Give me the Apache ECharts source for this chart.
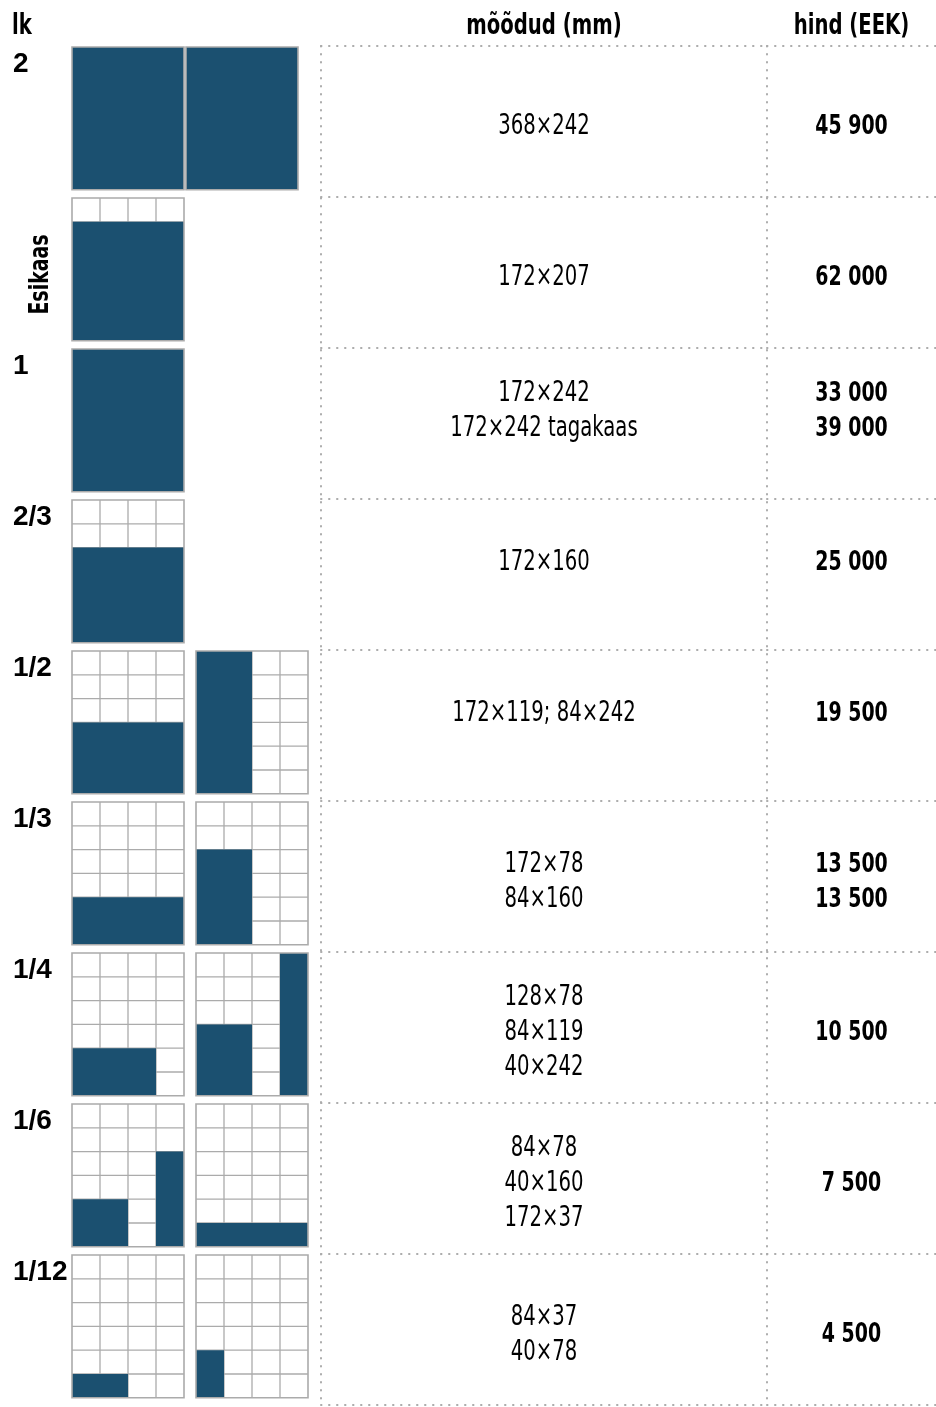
<!DOCTYPE html>
<html><head><meta charset="utf-8">
<script src="https://cdn.jsdelivr.net/npm/echarts@6/dist/echarts.min.js"></script>
<style>html,body{margin:0;padding:0;background:#fff}#c{width:936px;height:1407px}</style>
</head><body><div id="c"></div>
<script>
// ---------- data ----------
const headerLeft = 'lk';
const headerDims = 'mõõdud (mm)';
const headerPrice = 'hind (EEK)';
const rowLabels = ['2', 'Esikaas', '1', '2/3', '1/2', '1/3', '1/4', '1/6', '1/12'];
const dims = [
  ['368×242'],
  ['172×207'],
  ['172×242', '172×242 tagakaas', ' '],
  ['172×160', ' '],
  ['172×119; 84×242', ' '],
  ['172×78', '84×160'],
  ['128×78', '84×119', '40×242'],
  ['84×78', '40×160', '172×37'],
  ['84×37', '40×78']
];
const prices = [
  ['45 900'],
  ['62 000'],
  ['33 000', '39 000', ' '],
  ['25 000', ' '],
  ['19 500', ' '],
  ['13 500', '13 500'],
  ['10 500'],
  ['7 500'],
  ['4 500']
];
// filled blocks on a 4 x 6 page grid: [col, row, colSpan, rowSpan], one list per page
const PAGE_COLS = 4, PAGE_ROWS = 6;
const layouts = [
  [[[0, 0, 4, 6]], [[0, 0, 4, 6]]],
  [[[0, 1, 4, 5]]],
  [[[0, 0, 4, 6]]],
  [[[0, 2, 4, 4]]],
  [[[0, 3, 4, 3]], [[0, 0, 2, 6]]],
  [[[0, 4, 4, 2]], [[0, 2, 2, 4]]],
  [[[0, 4, 3, 2]], [[0, 3, 2, 3], [3, 0, 1, 6]]],
  [[[3, 2, 1, 4], [0, 4, 2, 2]], [[0, 5, 4, 1]]],
  [[[0, 5, 2, 1]], [[0, 4, 1, 2]]]
];
const spreadRows = [0]; // facing-page spread

// ---------- styles ----------
const NARROW = "'Liberation Sans Narrow', 'DejaVu Sans Condensed', 'DejaVu Sans', sans-serif";
const BOLDF = "'Liberation Sans', 'DejaVu Sans', sans-serif";
const SQUEEZE = 0.78;
const FILL = '#1b5070';
const GRIDC = '#ababab';
const DOT = { color: '#ababab', width: 2, type: [0.5, 7.5], cap: 'round' };

const pageData = [];
layouts.forEach((pages, r) => pages.forEach((_, p) => pageData.push([p, r])));

function txt(x, y, text, opt) {
  return {
    type: 'text', x: x, y: y, scaleX: opt.scaleX || 1, rotation: opt.rotation || 0,
    style: { text: text, align: opt.align || 'center', verticalAlign: 'middle', lineHeight: opt.lineHeight || 35,
      fontSize: opt.fontSize || 28, fontWeight: opt.bold ? 'bold' : 'normal',
      fontFamily: opt.family || NARROW, fill: '#000' }
  };
}

function renderPage(params, api) {
  const p = api.value(0), r = api.value(1);
  const colW = api.size([1, 0])[0];
  const band = api.size([0, 1])[1];
  const cellH = 23.8;
  const gapPx = spreadRows.includes(r) ? 2 : 12;
  const xCol = p * (PAGE_COLS + gapPx / colW);
  const pt = api.coord([xCol, r]);
  const x0 = pt[0], top = pt[1] - band / 2 + 1;
  const w = PAGE_COLS * colW, h = PAGE_ROWS * cellH;
  const ch = [];
  ch.push({ type: 'rect', shape: { x: x0, y: top, width: w, height: h }, style: { fill: '#fff' } });
  for (let c = 1; c < PAGE_COLS; c++) {
    ch.push({ type: 'line', shape: { x1: x0 + c * colW, y1: top, x2: x0 + c * colW, y2: top + h }, style: { stroke: GRIDC, lineWidth: 1.3 } });
  }
  for (let k = 1; k < PAGE_ROWS; k++) {
    ch.push({ type: 'line', shape: { x1: x0, y1: top + k * cellH, x2: x0 + w, y2: top + k * cellH }, style: { stroke: GRIDC, lineWidth: 1.3 } });
  }
  layouts[r][p].forEach(b => {
    ch.push({ type: 'rect', shape: { x: x0 + b[0] * colW, y: top + b[1] * cellH, width: b[2] * colW, height: b[3] * cellH }, style: { fill: FILL } });
  });
  ch.push({ type: 'rect', shape: { x: x0, y: top, width: w, height: h }, style: { fill: null, stroke: GRIDC, lineWidth: 1.6 } });
  return { type: 'group', children: ch };
}

function renderRowLabel(params, api) {
  const r = api.value(1);
  const band = api.size([0, 1])[1];
  const pt = api.coord([0, r]);
  const label = rowLabels[r];
  const ch = [];
  if (r === 0) {
    ch.push(txt(pt[0] - 60, pt[1] - band / 2 - 19, headerLeft, { align: 'left', bold: true, scaleX: SQUEEZE }));
  }
  if (label.length > 4) {
    ch.push(txt(pt[0] - 31, pt[1] + 2, label, { rotation: Math.PI / 2, bold: true, fontSize: 27, scaleX: SQUEEZE }));
  } else {
    ch.push(txt(pt[0] - 59, pt[1] - band / 2 + 18, label, { align: 'left', bold: true, family: BOLDF }));
  }
  return { type: 'group', children: ch };
}

function textRenderer(list, header, bold) {
  return function (params, api) {
    const r = api.value(1);
    const band = api.size([0, 1])[1];
    const pt = api.coord([0, r]);
    const ch = [txt(pt[0], pt[1] + 5.5, list[r].join('\n'), { bold: bold, fontSize: bold ? 27 : 28, scaleX: SQUEEZE })];
    if (r === 0) ch.push(txt(pt[0], pt[1] - band / 2 - 19, header, { bold: true, scaleX: SQUEEZE }));
    return { type: 'group', children: ch };
  };
}

const chart = echarts.init(document.getElementById('c'), null, { renderer: 'canvas' });
const yCommon = { type: 'category', data: rowLabels, inverse: true, axisTick: { show: false }, axisLabel: { show: false } };
const xHidden = gi => ({ type: 'category', gridIndex: gi, data: [0], position: 'top', show: false });
chart.setOption({
  animation: false,
  backgroundColor: '#fff',
  grid: [
    { left: 72, top: 46, width: 236, height: 1359 },
    { left: 321, top: 46, width: 446, height: 1359 },
    { left: 767, top: 46, right: 0, height: 1359 }
  ],
  xAxis: [
    { type: 'value', gridIndex: 0, min: 0, max: 236 / 28, show: false },
    xHidden(1),
    xHidden(2)
  ],
  yAxis: [
    Object.assign({}, yCommon, { gridIndex: 0, show: false }),
    Object.assign({}, yCommon, { gridIndex: 1, axisLine: { show: true, lineStyle: DOT }, splitLine: { show: true, lineStyle: DOT } }),
    Object.assign({}, yCommon, { gridIndex: 2, axisLine: { show: true, lineStyle: DOT }, splitLine: { show: true, lineStyle: DOT } })
  ],
  series: [
    { type: 'custom', xAxisIndex: 0, yAxisIndex: 0, clip: false, data: pageData, renderItem: renderPage, silent: true },
    { type: 'custom', xAxisIndex: 0, yAxisIndex: 0, clip: false, data: rowLabels.map((_, i) => [0, i]), renderItem: renderRowLabel, silent: true },
    { type: 'custom', xAxisIndex: 1, yAxisIndex: 1, clip: false, data: dims.map((_, i) => [0, i]), renderItem: textRenderer(dims, headerDims, false), silent: true },
    { type: 'custom', xAxisIndex: 2, yAxisIndex: 2, clip: false, data: prices.map((_, i) => [0, i]), renderItem: textRenderer(prices, headerPrice, true), silent: true }
  ]
});
</script>
</body></html>
